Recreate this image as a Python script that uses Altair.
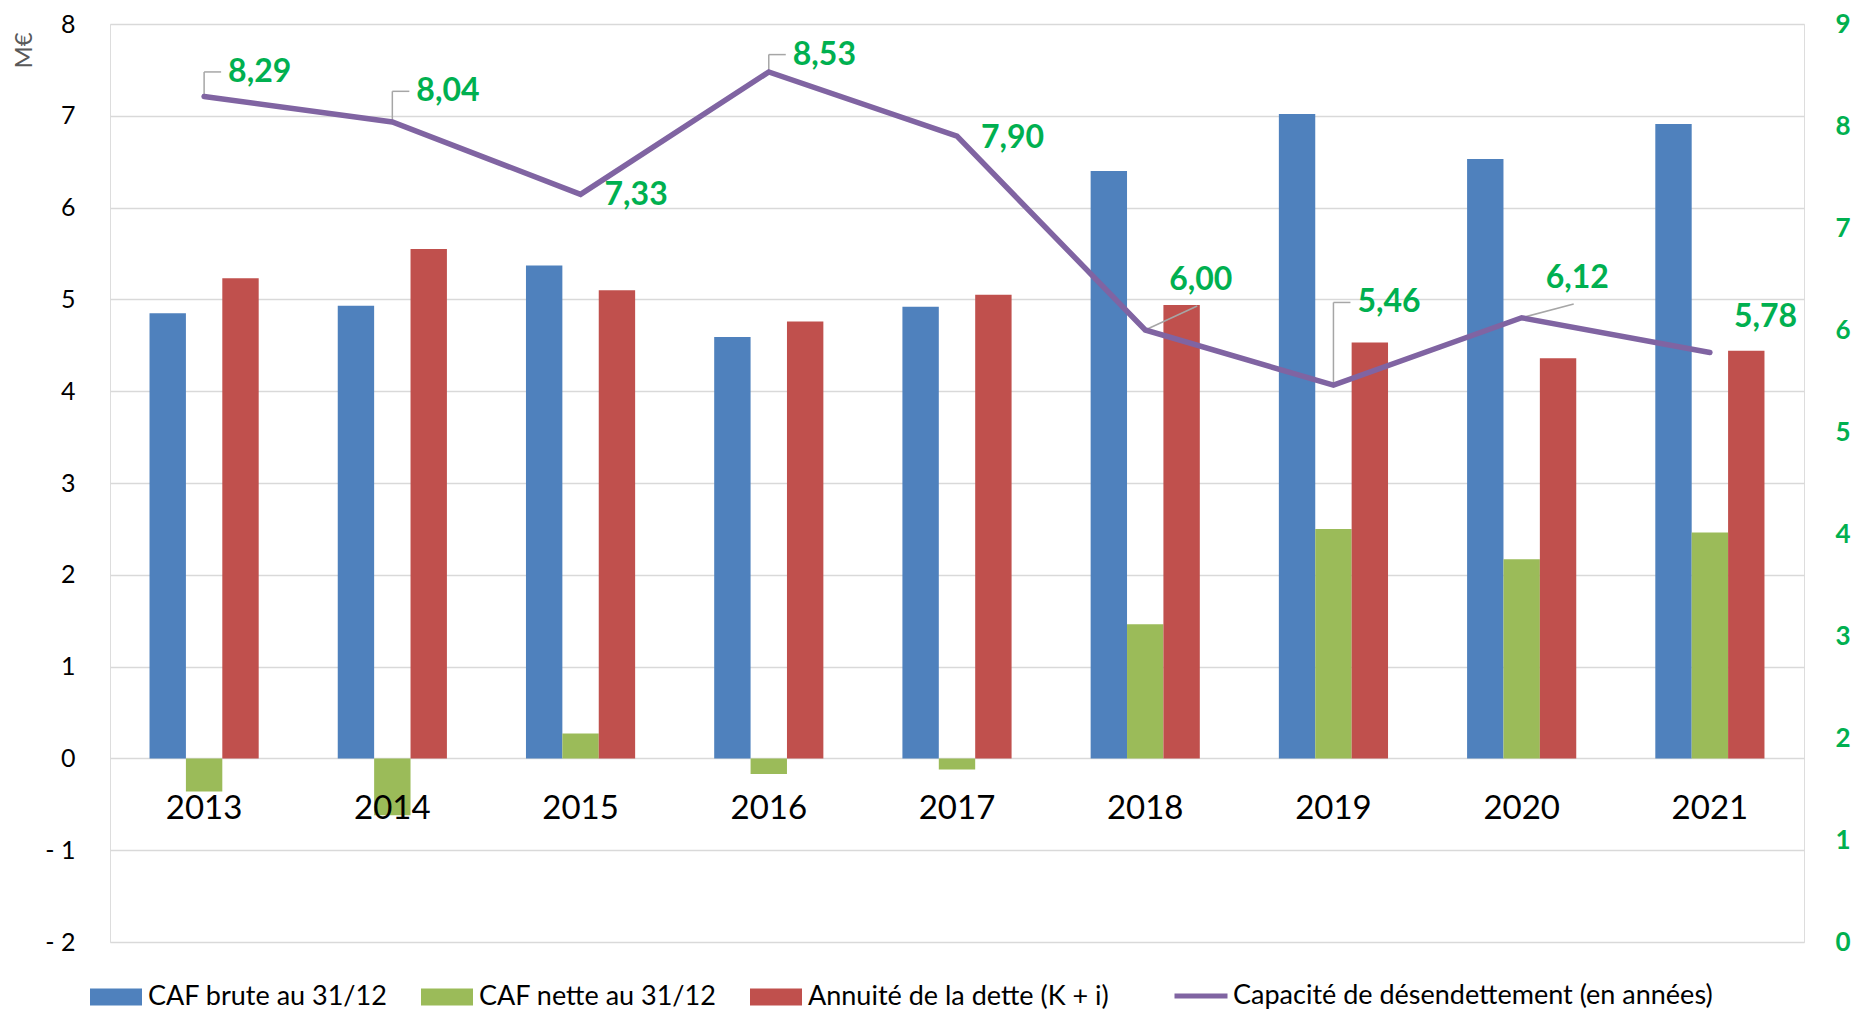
import altair as alt
import pandas as pd

years = ["2013", "2014", "2015", "2016", "2017", "2018", "2019", "2020", "2021"]
caf_brute = [4.85, 4.93, 5.37, 4.59, 4.92, 6.40, 7.02, 6.53, 6.91]
caf_nette = [-0.36, -0.62, 0.27, -0.17, -0.12, 1.46, 2.50, 2.17, 2.46]
annuite = [5.23, 5.55, 5.10, 4.76, 5.05, 4.94, 4.53, 4.36, 4.44]
capacite = [8.29, 8.04, 7.33, 8.53, 7.90, 6.00, 5.46, 6.12, 5.78]
# where each data label sits (right-axis units) and the kind of leader line drawn to it
label_y = [8.53, 8.34, 7.32, 8.70, 7.88, 6.49, 6.27, 6.51, 6.13]
leader = ["elbow", "elbow", "none", "elbow", "none", "diag", "elbow", "diag", "none"]

series_names = ["CAF brute au 31/12", "CAF nette au 31/12", "Annuité de la dette (K + i)"]
series_colors = ["#4F81BD", "#9BBB59", "#C0504D"]
line_name = "Capacité de désendettement (en années)"
line_color = "#8064A2"
label_color = "#00B050"
FONT = "Lato"

rows = []
for name, vals in zip(series_names, [caf_brute, caf_nette, annuite]):
    for y, v in zip(years, vals):
        rows.append({"year": y, "serie": name, "value": v})
bars_df = pd.DataFrame(rows)

line_df = pd.DataFrame({
    "year": years,
    "cap": capacite,
    "ly": label_y,
    "leader": leader,
    "txt": [f"{v:.2f}".replace(".", ",") for v in capacite],
    "serie": [line_name] * len(years),
})
years_df = pd.DataFrame({"year": years, "zero": [0] * len(years)})

x_enc = alt.X("year:N", sort=years, axis=None,
              scale=alt.Scale(paddingInner=0.42, paddingOuter=0.21))

left_y = alt.Scale(domain=[-2, 8], nice=False)
left_axis = alt.Axis(
    orient="left", values=list(range(-2, 9)), grid=True, gridColor="#D9D9D9",
    gridWidth=1.5, ticks=False, domain=False, labelPadding=35,
    labelFont=FONT, labelFontSize=25, labelColor="#000000",
    labelExpr="datum.value < 0 ? '- ' + abs(datum.value) : datum.label",
    title="M€", titleAngle=-90, titleFont=FONT, titleFontSize=24,
    titleFontWeight="normal", titleColor="#595959", titleX=-86, titleY=26,
    titleAlign="center", titleBaseline="middle",
)

bars = alt.Chart(bars_df).mark_bar().encode(
    x=x_enc,
    xOffset=alt.XOffset("serie:N", sort=series_names,
                        scale=alt.Scale(paddingInner=0, paddingOuter=0)),
    y=alt.Y("value:Q", scale=left_y, axis=left_axis),
    color=alt.Color(
        "serie:N", sort=series_names,
        scale=alt.Scale(domain=series_names, range=series_colors),
        legend=alt.Legend(
            orient="none", legendX=-20, legendY=947, direction="horizontal",
            title=None, symbolType="M-1,-0.33H1V0.33H-1Z", symbolSize=2704,
            symbolStrokeWidth=0, labelFont=FONT, labelFontSize=27,
            labelColor="#000000", labelOffset=6, columnPadding=33,
            labelLimit=600,
        ),
    ),
)

year_labels = alt.Chart(years_df).mark_text(
    font=FONT, fontSize=33, color="#000000", baseline="middle", dy=51
).encode(
    x=x_enc,
    y=alt.Y("zero:Q", scale=left_y, axis=left_axis),
    text="year:N",
)

left_layer = alt.layer(bars, year_labels)

right_y = alt.Scale(domain=[0, 9], nice=False)
right_axis = alt.Axis(
    orient="right", values=list(range(0, 10)), grid=False, ticks=False,
    domain=False, labelPadding=31, labelFont=FONT, labelFontSize=26,
    labelFontWeight="bold", labelColor=label_color, labelAlign="left",
    labelLimit=300, format="d", title=None,
)

line = alt.Chart(line_df).mark_line(strokeWidth=5.5, strokeCap="round").encode(
    x=x_enc,
    y=alt.Y("cap:Q", scale=right_y, axis=right_axis),
    stroke=alt.Stroke(
        "serie:N", scale=alt.Scale(domain=[line_name], range=[line_color]),
        legend=alt.Legend(
            orient="none", legendX=1062, legendY=943, title=None,
            symbolType="stroke", symbolSize=2809, symbolStrokeWidth=5,
            labelFont=FONT, labelFontSize=27, labelColor="#000000",
            labelOffset=3, labelLimit=800,
        ),
    ),
)

leader_style = dict(color="#A6A6A6", strokeWidth=1.5)
elbow = alt.datum.leader == "elbow"
diag = alt.datum.leader == "diag"

elbow_v = alt.Chart(line_df).transform_filter(elbow).mark_rule(**leader_style).encode(
    x=x_enc, y=alt.Y("cap:Q", scale=right_y), y2="ly:Q")
elbow_h = alt.Chart(line_df).transform_filter(elbow).mark_rule(
    x2Offset=17, **leader_style).encode(
    x=x_enc, x2="year:N", y=alt.Y("ly:Q", scale=right_y))
diag_r = alt.Chart(line_df).transform_filter(diag).mark_rule(
    x2Offset=52, y2Offset=26, **leader_style).encode(
    x=x_enc, x2="year:N", y=alt.Y("cap:Q", scale=right_y), y2="ly:Q")

labels = alt.Chart(line_df).mark_text(
    font=FONT, fontSize=32, fontWeight="bold", color=label_color,
    align="left", baseline="middle", dx=24,
).encode(
    x=x_enc, y=alt.Y("ly:Q", scale=right_y), text="txt:N")

right_layer = alt.layer(elbow_v, elbow_h, diag_r, line, labels)

chart = alt.layer(left_layer, right_layer).resolve_scale(
    y="independent"
).properties(
    width=1694, height=918,
    autosize=alt.AutoSizeParams(type="none"),
    padding={"left": 102, "top": 16, "right": 50, "bottom": 69},
).configure_view(stroke=None).configure(background="#FFFFFF")

chart.save("out.html", embed_options={"renderer": "svg", "actions": False})
